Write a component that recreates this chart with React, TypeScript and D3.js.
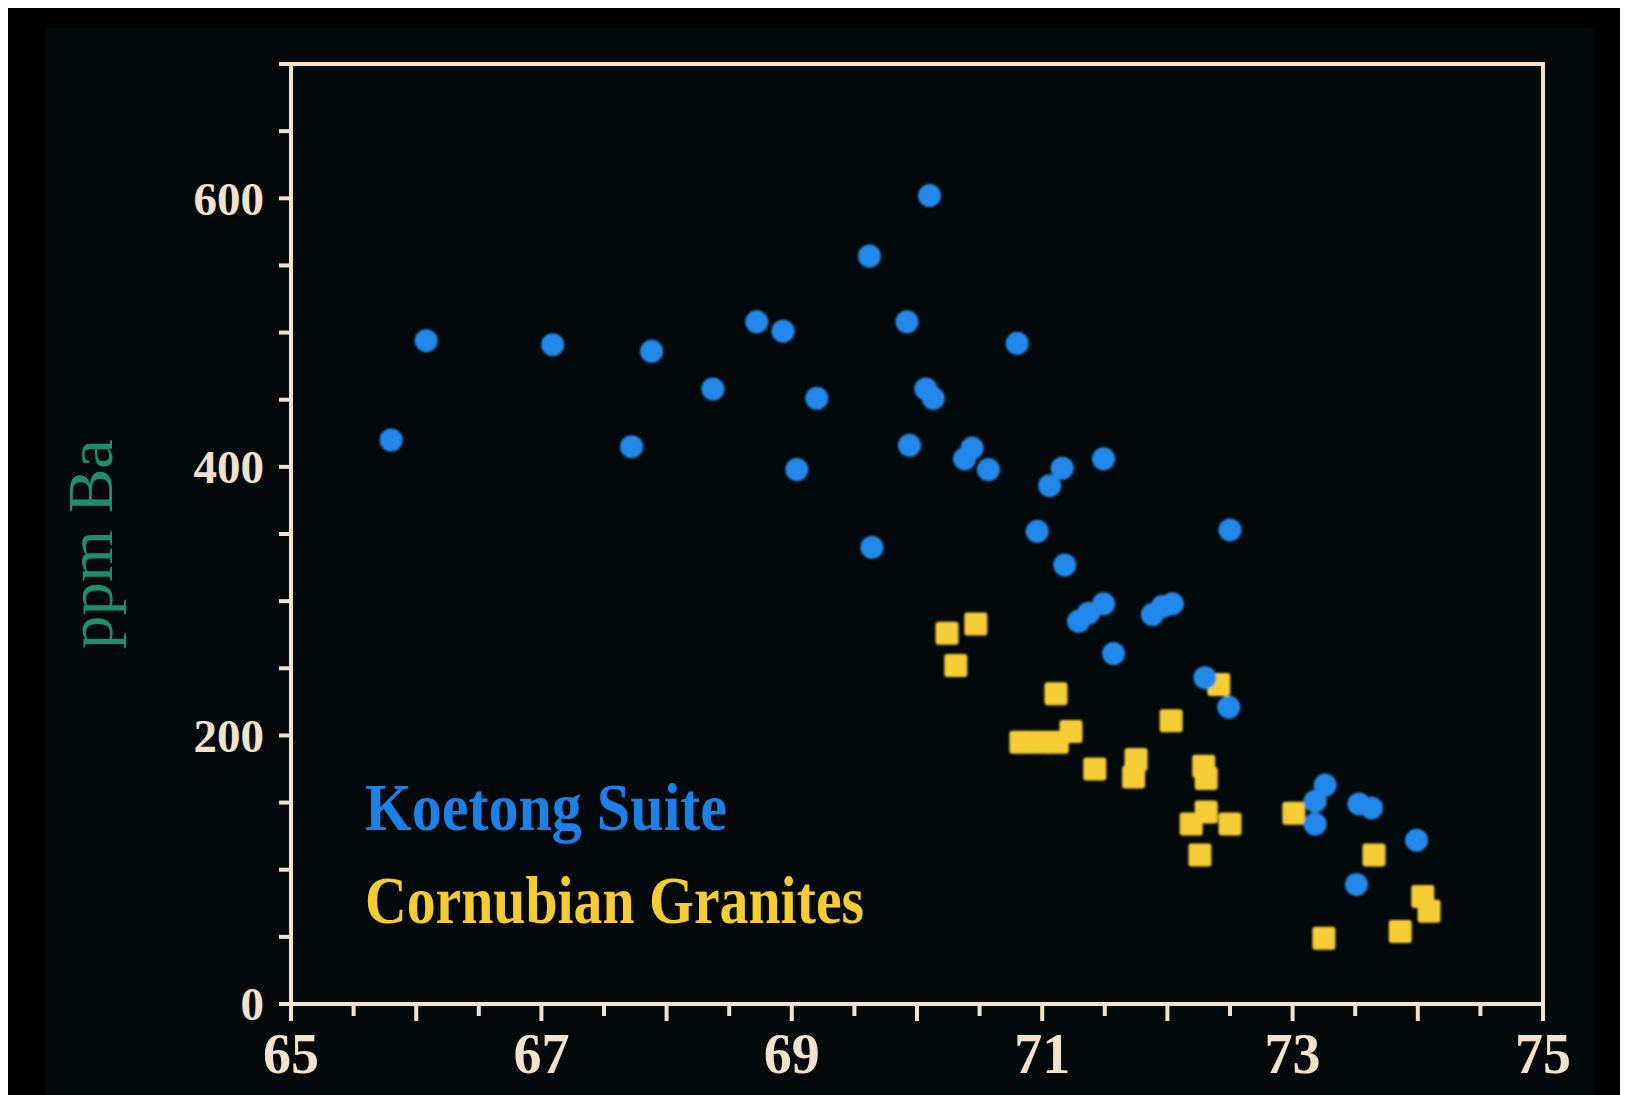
import React from "react";
import * as d3 from "d3";

// Koetong Suite: SiO2 (wt%) vs Ba (ppm)
const koetongSiO2 = [
  65.8, 66.08, 67.09, 67.72, 67.88, 68.37, 68.72, 68.93, 69.04, 69.2,
  69.62, 69.64, 69.92, 69.94, 70.1, 70.07, 70.13, 70.38, 70.44, 70.57,
  70.8, 70.96, 71.06, 71.16, 71.18, 71.49, 71.29, 71.37, 71.49, 71.57,
  71.88, 71.96, 72.04, 72.5, 72.3, 72.49, 73.26, 73.18, 73.18, 73.53,
  73.63, 73.99, 73.51,
];
const koetongBa = [
  420, 494, 491, 415, 486, 458, 508, 501, 398, 451,
  557, 340, 508, 416, 602, 458, 451, 406, 414, 398,
  492, 352, 386, 399, 327, 406, 285, 291, 298, 261,
  290, 296, 298, 353, 243, 221, 163, 151, 134, 149,
  146, 122, 89,
];

// Cornubian Granites: SiO2 (wt%) vs Ba (ppm)
const cornubianSiO2 = [
  70.24, 70.31, 70.47, 71.11, 70.83, 70.98, 71.12, 71.23, 71.42, 71.75,
  71.73, 72.03, 72.29, 72.31, 72.41, 72.19, 72.31, 72.5, 72.26, 73.01,
  73.65, 74.04, 74.09, 73.86, 73.25,
];
const cornubianBa = [
  276, 252, 283, 231, 195, 195, 195, 203, 175, 182,
  169, 211, 177, 168, 238, 134, 143, 134, 111, 142,
  111, 80, 69, 54, 49,
];

const xLabels = [65, 67, 69, 71, 73, 75];
const yLabels = [0, 200, 400, 600];
const seriesNames = ["Koetong Suite", "Cornubian Granites"];
const yTitle = "ppm Ba";

const W = 1620;
const H = 1087;
const cream = "#f3e2cb";
const blue = "#2189ea";
const yellow = "#f6cd36";
const serif = "'Liberation Serif', 'Times New Roman', serif";

export default function App() {
  const x = d3.scaleLinear().domain([65, 75]).range([283, 1535]);
  const y = d3.scaleLinear().domain([0, 700]).range([996, 56]);

  const xTicks = d3.range(65, 75.001, 0.5);
  const yTicks = d3.range(0, 700.001, 50);

  const koetong = koetongSiO2.map((s, i) => ({ s, b: koetongBa[i] }));
  const cornubian = cornubianSiO2.map((s, i) => ({ s, b: cornubianBa[i] }));

  const [x0, x1] = x.range();
  const [y0, y1] = y.range();
  const sq = 23;

  return (
    <>
      <style>{`body{overflow:hidden}`}</style>
      <svg width={W} height={H} style={{ display: "block", background: "#000" }}>
        <defs>
          <filter id="soft" x="-20%" y="-20%" width="140%" height="140%">
            <feGaussianBlur stdDeviation="1" />
          </filter>
        </defs>
        <rect x={38} y={20} width={1548} height={1067} fill="#04090b" />

        {/* frame */}
        <rect
          x={x0}
          y={y1}
          width={x1 - x0}
          height={y0 - y1}
          fill="none"
          stroke={cream}
          strokeWidth={4}
        />

        {/* y ticks */}
        {yTicks.map((t) => (
          <line
            key={`yt${t}`}
            x1={x0}
            x2={x0 - 12}
            y1={y(t)}
            y2={y(t)}
            stroke={cream}
            strokeWidth={4}
          />
        ))}
        {yLabels.map((t) => (
          <text
            key={`yl${t}`}
            x={256}
            y={y(t)}
            dy="0.35em"
            textAnchor="end"
            fontFamily={serif}
            fontWeight="bold"
            fontSize={47}
            fill={cream}
          >
            {t}
          </text>
        ))}

        {/* x ticks */}
        {xTicks.map((t) => (
          <line
            key={`xt${t}`}
            x1={x(t)}
            x2={x(t)}
            y1={y0}
            y2={y0 + (Number.isInteger(t) ? 17 : 12)}
            stroke={cream}
            strokeWidth={4}
          />
        ))}
        {xLabels.map((t) => (
          <text
            key={`xl${t}`}
            x={x(t)}
            y={1065}
            textAnchor="middle"
            fontFamily={serif}
            fontWeight="bold"
            fontSize={58}
            fill={cream}
            textLength={56}
            lengthAdjust="spacingAndGlyphs"
          >
            {t}
          </text>
        ))}

        {/* y axis title */}
        <text
          transform={`translate(104,536) rotate(-90)`}
          textAnchor="middle"
          fontFamily={serif}
          fontSize={64}
          fill="#1f8e6c"
          textLength={210}
          lengthAdjust="spacingAndGlyphs"
        >
          {yTitle}
        </text>

        {/* points */}
        <g filter="url(#soft)">
          {cornubian.map((d, i) => (
            <rect
              key={`c${i}`}
              x={x(d.s) - sq / 2}
              y={y(d.b) - sq / 2}
              width={sq}
              height={sq}
              rx={3}
              fill={yellow}
            />
          ))}
          {koetong.map((d, i) => (
            <circle key={`k${i}`} cx={x(d.s)} cy={y(d.b)} r={11.5} fill={blue} />
          ))}
        </g>

        {/* legend */}
        <text
          x={357}
          y={822}
          fontFamily={serif}
          fontWeight="bold"
          fontSize={68}
          fill="#1d80e6"
          textLength={362}
          lengthAdjust="spacingAndGlyphs"
        >
          {seriesNames[0]}
        </text>
        <text
          x={357}
          y={915}
          fontFamily={serif}
          fontWeight="bold"
          fontSize={68}
          fill="#f4cb33"
          textLength={499}
          lengthAdjust="spacingAndGlyphs"
        >
          {seriesNames[1]}
        </text>
      </svg>
    </>
  );
}
